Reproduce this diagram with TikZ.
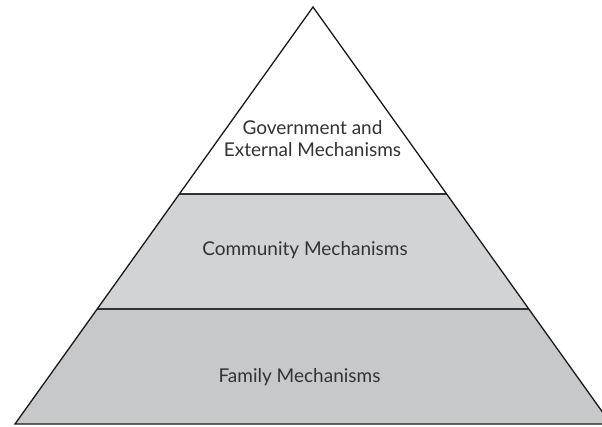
\documentclass[tikz,border=0pt]{standalone}
\usepackage{fontspec}
\setmainfont{Lato}
\begin{document}
\begin{tikzpicture}[x=1pt,y=1pt,
  edge/.style={draw=black!90, line width=1.3pt, line join=miter},
  divider/.style={draw=black!80, line width=1.8pt},
  label/.style={font=\fontsize{19}{22}\selectfont, text=black!80, align=center, inner sep=0pt}]
\useasboundingbox (0,0) rectangle (602,426);
\clip (0,0) rectangle (602,426);
\coordinate (apex) at (313,419);
\coordinate (tl) at (179.4,232);
\coordinate (tr) at (446.6,232);
\coordinate (ml) at (97.2,117);
\coordinate (mr) at (528.8,117);
\coordinate (bl) at (15,2);
\coordinate (br) at (611,2);
\fill[white] (apex) -- (tl) -- (tr) -- cycle;
\fill[fill={rgb,255:red,210;green,211;blue,213}] (tl) -- (tr) -- (mr) -- (ml) -- cycle;
\fill[fill={rgb,255:red,199;green,200;blue,202}] (ml) -- (mr) -- (br) -- (bl) -- cycle;
\draw[divider] (tl) -- (tr);
\draw[divider] (ml) -- (mr);
\draw[edge] (apex) -- (bl) -- (br) -- cycle;
\node[label] (gov) at (312.5,287) {Government and\\External Mechanisms};
\node[label] (com) at (305,176) {Community Mechanisms};
\node[label] (fam) at (299.5,48.5) {Family Mechanisms};
\end{tikzpicture}
\end{document}
